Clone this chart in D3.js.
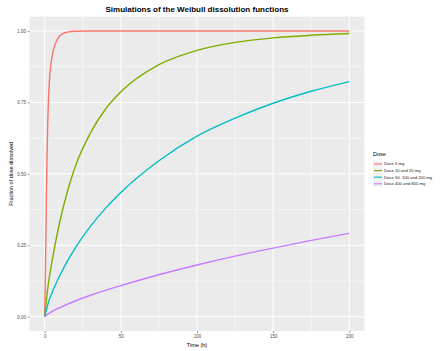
<!DOCTYPE html>
<html>
<head>
<meta charset="utf-8">
<script src="https://cdn.jsdelivr.net/npm/d3@7"></script>
<style>
  body { margin: 0; background: #fff; }
  svg { font-family: "Liberation Sans", Arial, sans-serif; }
</style>
</head>
<body>
<svg id="chart" width="443" height="351"></svg>
<script>
// values
const timeRed = [0, 0.5, 1, 1.5, 2, 3, 4, 5, 6, 8, 10, 12, 15, 20, 30, 50, 100, 150, 200];
const doseRed = [0, 0.17, 0.38, 0.56, 0.68, 0.82, 0.88, 0.915, 0.94, 0.968, 0.983, 0.991, 0.996, 0.999, 1, 1, 1, 1, 1];

const timeGreen = [0, 2, 5, 10, 15, 20, 30, 40, 50, 75, 100, 125, 150, 175, 200];
const doseGreen = [0, 0.1, 0.2, 0.335, 0.44, 0.525, 0.643, 0.727, 0.787, 0.882, 0.932, 0.96, 0.976, 0.985, 0.991];

const timeCyan = [0, 2.5, 5, 10, 20, 30, 40, 50, 75, 100, 125, 150, 175, 200];
const doseCyan = [0, 0.051, 0.086, 0.145, 0.24, 0.316, 0.38, 0.435, 0.546, 0.632, 0.695, 0.747, 0.789, 0.823];

const timePurple = [0, 2, 5, 10, 20, 30, 50, 75, 100, 125, 150, 175, 200];
const dosePurple = [0, 0.009, 0.019, 0.032, 0.055, 0.075, 0.109, 0.147, 0.181, 0.212, 0.24, 0.267, 0.292];

const seriesNames = ["Dose 5 mg", "Dose 10 and 20 mg", "Dose 50, 100 and 200 mg", "Dose 400 and 800 mg"];
const seriesColors = ["#F8766D", "#7CAE00", "#00BFC4", "#C77CFF"];
const xTicks = [0, 50, 100, 150, 200];
const yTicks = [0, 0.25, 0.5, 0.75, 1];

const series = [
    [timeRed, doseRed],
    [timeGreen, doseGreen],
    [timeCyan, doseCyan],
    [timePurple, dosePurple]
].map(function (s, i) {
    return {
        name: seriesNames[i],
        color: seriesColors[i],
        points: s[0].map(function (t, j) { return {t: t, v: s[1][j]}; })
    };
});

const svg = d3.select("#chart"),
    panel = {left: 29.5, right: 364.5, top: 16.7, bottom: 331};

// ggplot style 5% expansion on both axes
const x = d3.scaleLinear()
    .domain([-10, 210])
    .range([panel.left, panel.right]);
const y = d3.scaleLinear()
    .domain([-0.05, 1.05])
    .range([panel.bottom, panel.top]);

svg.append("rect")
    .attr("x", panel.left)
    .attr("y", panel.top)
    .attr("width", panel.right - panel.left)
    .attr("height", panel.bottom - panel.top)
    .attr("fill", "#EBEBEB");

// minor grid
const g = svg.append("g");
d3.range(25, 200, 50).forEach(function (t) {
    g.append("line")
        .attr("x1", x(t)).attr("x2", x(t))
        .attr("y1", panel.top).attr("y2", panel.bottom)
        .attr("stroke", "#fff").attr("stroke-width", 0.5);
});
d3.range(0.125, 1, 0.25).forEach(function (v) {
    g.append("line")
        .attr("x1", panel.left).attr("x2", panel.right)
        .attr("y1", y(v)).attr("y2", y(v))
        .attr("stroke", "#fff").attr("stroke-width", 0.5);
});
// major grid
xTicks.forEach(function (t) {
    g.append("line")
        .attr("x1", x(t)).attr("x2", x(t))
        .attr("y1", panel.top).attr("y2", panel.bottom)
        .attr("stroke", "#fff").attr("stroke-width", 1);
});
yTicks.forEach(function (v) {
    g.append("line")
        .attr("x1", panel.left).attr("x2", panel.right)
        .attr("y1", y(v)).attr("y2", y(v))
        .attr("stroke", "#fff").attr("stroke-width", 1);
});

const line = d3.line()
    .x(function (d) { return x(d.t); })
    .y(function (d) { return y(d.v); })
    .curve(d3.curveMonotoneX);

svg.selectAll("path.series")
    .data(series)
    .enter().append("path")
    .attr("class", "series")
    .attr("d", function (d) { return line(d.points); })
    .attr("fill", "none")
    .attr("stroke", function (d) { return d.color; })
    .attr("stroke-width", 1.4);

// axes
const xAxis = svg.append("g")
    .attr("transform", "translate(0," + panel.bottom + ")")
    .call(d3.axisBottom(x).tickValues(xTicks).tickSize(2).tickPadding(1.5)
        .tickFormat(d3.format("d")));
const yAxis = svg.append("g")
    .attr("transform", "translate(" + panel.left + ",0)")
    .call(d3.axisLeft(y).tickValues(yTicks).tickSize(2).tickPadding(1.5)
        .tickFormat(d3.format(".2f")));
[xAxis, yAxis].forEach(function (a) {
    a.select(".domain").remove();
    a.selectAll(".tick line").attr("stroke", "#333").attr("stroke-width", 0.5);
    a.selectAll(".tick text").attr("fill", "#4d4d4d").style("font-size", "4.5px");
});

svg.append("text")
    .attr("x", (panel.left + panel.right) / 2)
    .attr("y", 346.5)
    .attr("text-anchor", "middle")
    .style("font-size", "5.5px")
    .text("Time (h)");

svg.append("text")
    .attr("transform", "translate(12.5," + ((panel.top + panel.bottom) / 2) + ") rotate(-90)")
    .attr("text-anchor", "middle")
    .style("font-size", "5.5px")
    .text("Fraction of dose dissolved");

svg.append("text")
    .attr("x", (panel.left + panel.right) / 2)
    .attr("y", 12)
    .attr("text-anchor", "middle")
    .style("font-size", "8px")
    .style("font-weight", "bold")
    .text("Simulations of the Weibull dissolution functions");

// legend
const legend = svg.append("g").attr("transform", "translate(373,156)");
legend.append("text")
    .style("font-size", "5.5px")
    .text("Dose");
const item = legend.selectAll("g.item")
    .data(series)
    .enter().append("g")
    .attr("class", "item")
    .attr("transform", function (d, i) { return "translate(0," + (8 + i * 6.6) + ")"; });
item.append("rect")
    .attr("x", 0).attr("y", -3.2)
    .attr("width", 9.5).attr("height", 6.4)
    .attr("fill", "#F2F2F2");
item.append("line")
    .attr("x1", 1).attr("x2", 9)
    .attr("stroke", function (d) { return d.color; })
    .attr("stroke-width", 1.2);
item.append("text")
    .attr("x", 11)
    .attr("dy", "0.35em")
    .style("font-size", "4.2px")
    .attr("fill", "#222")
    .text(function (d) { return d.name; });
</script>
</body>
</html>
